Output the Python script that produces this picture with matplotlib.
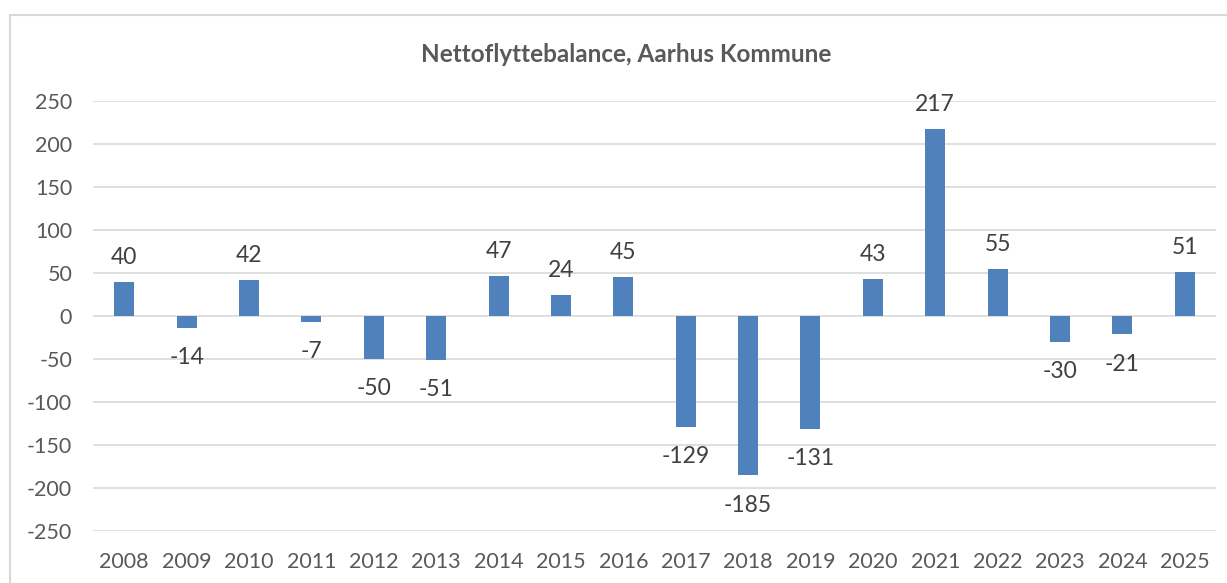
import matplotlib
matplotlib.use("Agg")
import matplotlib.pyplot as plt
from matplotlib.patches import Rectangle

years = ["2008", "2009", "2010", "2011", "2012", "2013", "2014", "2015", "2016",
         "2017", "2018", "2019", "2020", "2021", "2022", "2023", "2024", "2025"]
values = [40, -14, 42, -7, -50, -51, 47, 24, 45, -129, -185, -131, 43, 217, 55, -30, -21, 51]
yticks = [-250, -200, -150, -100, -50, 0, 50, 100, 150, 200, 250]
title = "Nettoflyttebalance, Aarhus Kommune"

plt.rcParams['font.family'] = ['Lato', 'DejaVu Sans']
plt.rcParams['axes.unicode_minus'] = False
W, H = 1227, 583
fig = plt.figure(figsize=(W / 100, H / 100), dpi=100)
fig.patch.set_facecolor("white")

# outer chart frame
fig.patches.append(Rectangle((10 / W, -0.1), 1.2, 1 - 15 / H + 0.1, transform=fig.transFigure,
                             fill=False, edgecolor="#d9d9d9", linewidth=1.5, zorder=0))

ax = fig.add_axes([93 / W, 1 - 531 / H, (1216 - 93) / W, (531 - 101) / H])
x = list(range(len(years)))
ax.bar(x, values, width=0.32, color="#4f81bd", zorder=3)
ax.set_xlim(-0.5, len(years) - 0.5)
ax.set_ylim(-250, 250)
ax.set_yticks(yticks)
ax.set_xticks(x)
ax.set_xticklabels(years)
ax.grid(axis="y", color="#d9d9d9", linewidth=1.2, zorder=0)
for s in ax.spines.values():
    s.set_visible(False)
ax.tick_params(axis="both", length=0, colors="#595959", labelsize=15.5)
ax.tick_params(axis="y", pad=15)
ax.tick_params(axis="x", pad=15)

for xi, v in zip(x, values):
    if v >= 0:
        ax.annotate(str(v), (xi, v), xytext=(0, 10), textcoords="offset points",
                    ha="center", va="bottom", fontsize=16.5, color="#404040")
    else:
        ax.annotate(str(v), (xi, v), xytext=(0, -14), textcoords="offset points",
                    ha="center", va="top", fontsize=16.5, color="#404040")

fig.text((418 + 835) / 2 / W, 1 - 54 / H, title, ha="center", va="center",
         fontsize=17.5, fontweight="bold", color="#595959")

fig.savefig("out.png", dpi=100)
